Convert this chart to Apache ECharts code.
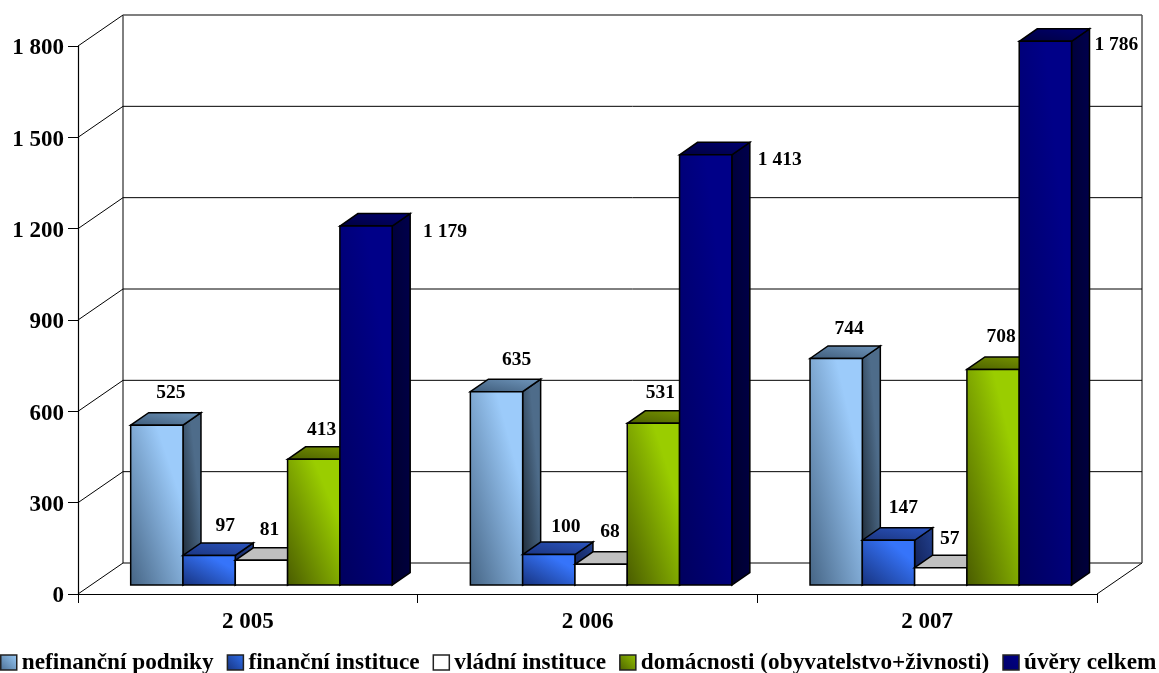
<!DOCTYPE html>
<html>
<head>
<meta charset="utf-8">
<style>html,body{margin:0;padding:0;background:#fff}#chart{width:1159px;height:673px}</style>
<script src="https://cdn.jsdelivr.net/npm/echarts@6/dist/echarts.min.js"></script>
</head>
<body>
<div id="chart"></div>
<script>
// Úvěry podle sektorů, 2005–2007
const years = ['2 005', '2 006', '2 007'];
const yTicks = [0, 300, 600, 900, 1200, 1500, 1800];
const seriesNames = ['nefinanční podniky', 'finanční instituce', 'vládní instituce', 'domácnosti (obyvatelstvo+živnosti)', 'úvěry celkem'];
const nefinancni = [525, 635, 744];
const financni = [97, 100, 147];
const vladni = [81, 68, 57];
const domacnosti = [413, 531, 708];
const celkem = [1179, 1413, 1786];
const seriesValues = [nefinancni, financni, vladni, domacnosti, celkem];

const chart = echarts.init(document.getElementById('chart'), null, { renderer: 'canvas' });
const G = echarts.graphic.LinearGradient;
const FONT = '"Liberation Serif", "Times New Roman", serif';

// Pseudo-3D box geometry
const WALL_DX = 45, WALL_DY = 31;      // depth of the chart box
const BAR_DX = 18, BAR_DY = 12.5;      // depth of one bar
const FLOOR_DX = 13.6, FLOOR_DY = 9;   // bars stand a little behind the front edge
const BAR_W = 52.3;

const stops = (a, b, m) => [{ offset: 0, color: a }, { offset: m, color: b }, { offset: 1, color: b }];

// Shading that runs evenly across both the width and the height of a face,
// darkest in the lower left corner and lightest towards the upper right.
function shade(x, yBottom, w, h, colors) {
  const gx = 0.5 / w, gy = 0.5 / Math.max(h, 1);
  const n = gx * gx + gy * gy;
  return new G(x, yBottom, x + gx / n, yBottom - gy / n, stops(colors[0], colors[1], colors[2] || 0.75), true);
}

const faces = [
  { front: ['#466585', '#9ccbfa'], side: ['#1b2733', '#4e6c8a', 0.7], top: ['#3f5c7a', '#6f96bc', 1], swatch: ['#4a6d92', '#9accf8'] },
  { front: ['#17337f', '#3674fa'], side: ['#0f1d50', '#22408f', 1], top: ['#1b3580', '#2b55c0', 1], swatch: ['#17337f', '#3070ee'] },
  { front: ['#ffffff', '#ffffff'], side: ['#9a9a9a', '#b0b0b0', 1], top: ['#c0c0c0', '#c0c0c0', 1], swatch: ['#ffffff', '#ffffff'] },
  { front: ['#4a5c00', '#9acd00'], side: ['#2f3c00', '#5a7000', 1], top: ['#4c6000', '#7a9800', 1], swatch: ['#4c6000', '#94c400'] },
  { front: ['#00005e', '#000088'], side: ['#00002c', '#00004d', 1], top: ['#000040', '#000070', 1], swatch: ['#000066', '#000088'] }
];

// Hand placement of the value labels relative to each bar's front-top centre
const labelShift = [
  [[14, -32], [20, -32], [13, -30]],
  [[16, -30], [17, -28], [15, -32]],
  [[8, -30], [9, -32], [9, -29]],
  [[8, -29], [7, -30], [8, -32]],
  [[79, 6], [74, 5], [71, 4]]
];

const spaced = v => String(v).replace(/\B(?=(\d{3})+$)/g, ' ');

function poly(points, fill) {
  return { type: 'polygon', shape: { points }, style: { fill, stroke: '#000', lineWidth: 1.5 } };
}

function barSeries(idx) {
  const f = faces[idx];
  return {
    name: seriesNames[idx],
    type: 'custom',
    coordinateSystem: 'cartesian2d',
    z: 3 + idx,
    clip: false,
    itemStyle: { color: f.swatch[1] },
    data: seriesValues[idx].map((v, c) => [years[c], v]),
    encode: { x: 0, y: 1 },
    renderItem(params, api) {
      const cat = api.value(0), val = api.value(1);
      const top = api.coord([cat, val]);
      const base = api.coord([cat, 0]);
      const x0 = top[0] + FLOOR_DX + (idx - 2.5) * BAR_W;
      const x1 = x0 + BAR_W;
      const yT = top[1] - FLOOR_DY;
      const yB = base[1] - FLOOR_DY;
      const h = yB - yT;
      const s = labelShift[idx][params.dataIndex];
      return {
        type: 'group',
        children: [
          poly([[x1, yT], [x1 + BAR_DX, yT - BAR_DY], [x1 + BAR_DX, yB - BAR_DY], [x1, yB]], shade(x1, yB, BAR_DX, h + BAR_DY, f.side)),
          poly([[x0, yT], [x0 + BAR_DX, yT - BAR_DY], [x1 + BAR_DX, yT - BAR_DY], [x1, yT]], shade(x0, yT, BAR_W + BAR_DX, BAR_DY, f.top)),
          poly([[x0, yT], [x1, yT], [x1, yB], [x0, yB]], shade(x0, yB, BAR_W, h, f.front)),
          {
            type: 'text',
            z2: 50,
            style: {
              text: spaced(val),
              x: (x0 + x1) / 2 + s[0],
              y: yT + s[1],
              align: 'center',
              verticalAlign: 'middle',
              fill: '#000',
              font: 'bold 19.5px ' + FONT
            }
          }
        ]
      };
    }
  };
}

// Back wall, side wall and floor of the box, one set of lines per axis tick
const wallSeries = {
  name: 'stěny',
  type: 'custom',
  coordinateSystem: 'cartesian2d',
  z: 1,
  clip: false,
  silent: true,
  data: yTicks.map(v => [years[0], v]),
  encode: { x: 0, y: 1 },
  renderItem(params, api) {
    const r = params.coordSys;
    const y = api.coord([api.value(0), api.value(1)])[1];
    const l = r.x, rt = r.x + r.width;
    const seg = (a, b, c, w) => ({ type: 'line', shape: { x1: a[0], y1: a[1], x2: b[0], y2: b[1] }, style: { stroke: c || '#000', lineWidth: w || 1 } });
    const kids = [
      seg([l, y], [l + WALL_DX, y - WALL_DY]),
      seg([l + WALL_DX, y - WALL_DY], [rt + WALL_DX, y - WALL_DY], api.value(1) === 1800 ? '#555' : '#000', api.value(1) === 1800 ? 1.5 : 1)
    ];
    if (api.value(1) === 0) {
      kids.push(seg([rt, y], [rt + WALL_DX, y - WALL_DY]));
      kids.push(seg([l + WALL_DX, y - WALL_DY], [l + WALL_DX, r.y - WALL_DY]));
      kids.push(seg([rt + WALL_DX, y - WALL_DY], [rt + WALL_DX, r.y - WALL_DY], '#555', 1.5));
    }
    return { type: 'group', children: kids };
  }
};

chart.setOption({
  animation: false,
  backgroundColor: '#fff',
  grid: { left: 78, right: 62, top: 46, bottom: 79, containLabel: false },
  xAxis: {
    type: 'category',
    data: years,
    axisLine: { lineStyle: { color: '#000', width: 1.2 } },
    axisTick: { show: true, length: 9, lineStyle: { color: '#000' }, alignWithLabel: false },
    axisLabel: { color: '#000', fontFamily: FONT, fontWeight: 'bold', fontSize: 23, margin: 17 },
    splitLine: { show: false }
  },
  yAxis: {
    type: 'value',
    min: 0,
    max: 1800,
    interval: 300,
    axisLine: { show: true, lineStyle: { color: '#000', width: 1.2 } },
    axisTick: { show: true, length: 10, lineStyle: { color: '#000' } },
    axisLabel: { color: '#000', fontFamily: FONT, fontWeight: 'bold', fontSize: 23, margin: 14, verticalAlign: 'top', lineHeight: 5, formatter: v => spaced(v) },
    splitLine: { show: false }
  },
  legend: {
    left: 0,
    top: 651,
    padding: 0,
    itemWidth: 16,
    itemHeight: 15,
    itemGap: 13,
    icon: 'rect',
    selectedMode: false,
    textStyle: { color: '#000', fontFamily: FONT, fontWeight: 'bold', fontSize: 23.25 },
    data: seriesNames.map((n, i) => ({
      name: n,
      icon: 'rect',
      itemStyle: {
        color: new G(0, 1, 1, 0, stops(faces[i].swatch[0], faces[i].swatch[1], 1)),
        borderColor: '#222',
        borderWidth: 1.5
      }
    }))
  },
  series: [wallSeries].concat(seriesNames.map((_, i) => barSeries(i)))
});
</script>
</body>
</html>
